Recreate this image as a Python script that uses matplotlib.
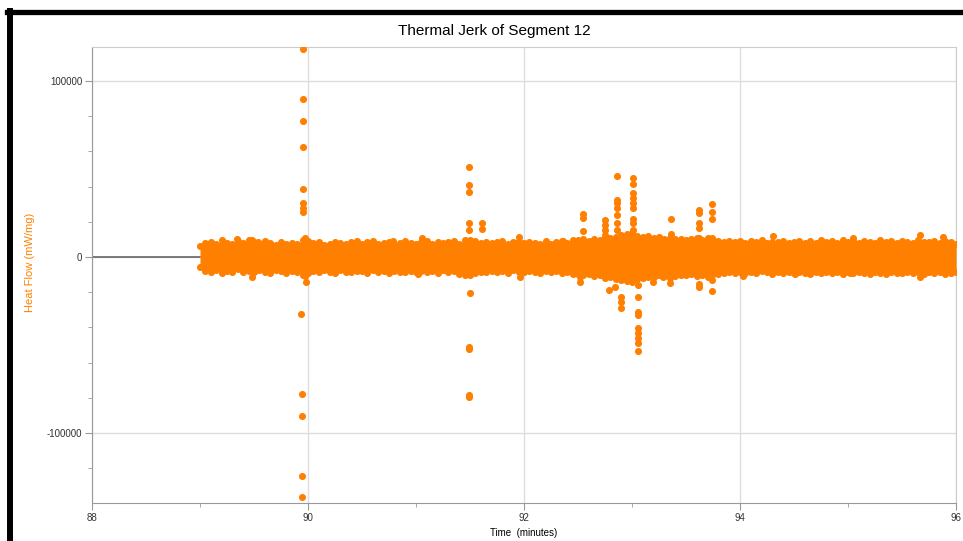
import numpy as np
import matplotlib
matplotlib.use("Agg")
from matplotlib import pyplot as plt
from matplotlib.lines import Line2D
from matplotlib.ticker import MultipleLocator

plt.rcParams['font.family'] = ['Liberation Sans', 'DejaVu Sans']
plt.rcParams['axes.unicode_minus'] = False

ORANGE = '#ff8000'

# flat baseline before the signal starts
line_t = [88.0, 89.0]
line_v = [0, 0]

# dense noise band: sampled every 0.05 min from 89.00 to 96.00
band_t = np.round(np.arange(89.0, 96.001, 0.05), 2)
band_hi = [
    6000, 7800, 8600, 7200, 9400, 8100, 7400, 9000, 7800, 9700,
    8300, 7300, 8900, 7700, 7000, 8600, 7500, 8200, 7100, 9600,
    8800, 7900, 8400, 6900, 7600, 8700, 7700, 7100, 8300, 9300,
    7500, 8600, 9100, 7300, 8000, 8400, 7000, 7800, 8800, 8100,
    7200, 8300, 9300, 7600, 8700, 7800, 8400, 8900, 7400, 9600,
    9900, 8800, 7900, 8500, 7700, 8300, 9200, 7300, 8400, 8900,
    7800, 8700, 8100, 7600, 9100, 7200, 8300, 8800, 8000, 9400,
    9600, 10000, 9000, 10400, 9700, 11000, 10600, 11600, 12300, 13000,
    13500, 12200, 11300, 11900, 10600, 11100, 10300, 10800, 10000, 10400,
    9600, 10100, 10500, 9900, 10700, 9800, 9200, 8500, 8900, 8300,
    8800, 8000, 9200, 8400, 9500, 7800, 8700, 8300, 9100, 7700,
    8600, 9300, 8200, 8900, 7900, 9700, 8400, 8800, 7800, 9400,
    8300, 8900, 8100, 9200, 8700, 7800, 9500, 8400, 8800, 8100,
    9100, 8600, 7900, 9400, 8700, 8300, 8900, 8200, 9200, 8500,
    7500]
band_lo = [
    -5800, -7700, -8500, -7400, -9100, -7900, -8400, -7100, -8800, -7800,
    -8700, -7600, -8300, -9200, -7300, -8100, -8900, -7800, -8400, -10000,
    -9300, -8000, -8600, -7600, -8300, -9100, -7400, -8400, -8800, -7700,
    -8200, -8900, -7600, -8600, -8100, -9200, -7800, -8300, -8700, -8000,
    -8400, -7700, -8800, -8100, -9100, -7500, -8600, -8200, -9500, -10000,
    -10300, -9200, -8300, -8800, -7800, -8600, -8100, -8900, -7600, -8400,
    -8800, -8000, -8400, -9100, -7700, -8700, -8200, -9200, -8300, -9600,
    -9900, -10500, -9700, -11000, -10300, -11800, -11100, -12300, -13000, -13700,
    -14100, -12700, -11900, -11300, -11600, -10500, -11000, -10200, -10800, -10100,
    -10400, -9800, -10900, -10200, -11100, -9900, -9400, -9000, -8600, -9100,
    -8300, -8900, -8600, -9300, -8200, -8800, -9500, -8400, -9100, -8700,
    -9200, -8400, -8900, -9400, -8600, -9100, -8300, -9300, -8800, -9500,
    -8700, -9200, -8400, -8900, -9500, -8600, -9100, -9400, -8400, -8900,
    -9300, -8700, -9100, -8400, -9400, -8800, -9200, -8600, -9500, -8900,
    -8400]

# isolated points (spikes and stragglers)
spike_t = [
    89.951, 89.951, 89.951, 89.951, 89.951, 89.953, 89.953, 89.953, 89.972,
    89.940, 89.945, 89.948, 89.948, 89.948, 89.980, 89.970,
    91.490, 91.490, 91.490, 91.490, 91.490, 91.614, 91.614, 91.500,
    91.490, 91.490, 91.490, 91.490,
    89.479, 89.480, 91.956, 91.960, 92.520, 92.520, 92.360,
    92.543, 92.543, 92.543, 92.750, 92.750, 92.750, 92.750,
    92.864, 92.864, 92.864, 92.864, 92.864, 92.864, 92.864,
    93.012, 93.012, 93.012, 93.012, 93.012, 93.012, 93.012, 93.012, 93.012,
    93.058, 93.058, 93.058, 93.058, 93.058, 93.058, 93.058, 93.058, 93.058, 93.058,
    92.900, 92.900, 92.900, 92.790, 92.843, 92.980,
    93.361, 93.361, 93.623, 93.623, 93.623, 93.623, 93.623,
    93.744, 93.744, 93.744, 93.744, 93.623, 93.623, 93.738, 93.738,
    93.197, 93.197, 93.284, 93.350, 93.350,
    95.667, 95.883,
    89.540, 89.340, 91.060, 90.790, 91.020, 91.440,
    94.310, 95.050, 94.030, 95.667, 95.020, 94.510]
spike_v = [
    118200, 90000, 77300, 62300, 38600, 30900, 28000, 25400, 10600,
    -32600, -77600, -90300, -124300, -136200, -14400, -11000,
    51000, 40900, 36800, 19100, 15300, 19100, 16100, -20300,
    -51300, -52400, -78400, -79500,
    9700, -11200, 11200, -11200, -11200, -14000, 9100,
    24400, 22000, 15000, 21000, 18200, 15300, 12500,
    46000, 32400, 30500, 27700, 23900, 19100, 15300,
    44700, 41500, 36600, 33700, 30900, 27700, 21400, 19500, 15300,
    -11200, -15900, -22500, -31100, -33000, -40500, -43400, -46200, -49100, -53200,
    -22500, -25400, -29200, -18800, -16900, -11200,
    21600, 12900, 26700, 25200, 19500, 16700, 11000,
    29900, 25800, 21400, 10600, -15400, -17000, -13000, -19500,
    -10800, -14000, -11200, -12100, -15000,
    12500, 11500,
    8700, 10000, 10600, 9300, -9700, -7400,
    11900, 10600, -10800, -11600, -9300, -9700]

fig = plt.figure(figsize=(9.63, 5.41), dpi=100)
ax = fig.add_axes([0.0955, 0.0702, 0.8972, 0.8429])

ax.plot(line_t, line_v, color='#666666', lw=1.2, zorder=2)
ax.fill_between(band_t, band_lo, band_hi, color=ORANGE, lw=0, zorder=3)
ax.scatter(band_t, band_hi, s=26, c=ORANGE, linewidths=0, zorder=4)
ax.scatter(band_t, band_lo, s=26, c=ORANGE, linewidths=0, zorder=4)
ax.scatter(spike_t, spike_v, s=26, c=ORANGE, linewidths=0, zorder=4)

ax.set_xlim(88, 96)
ax.set_ylim(-139800, 119300)
ax.xaxis.set_major_locator(MultipleLocator(2))
ax.xaxis.set_minor_locator(MultipleLocator(1))
ax.yaxis.set_major_locator(MultipleLocator(100000))
ax.yaxis.set_minor_locator(MultipleLocator(20000))
ax.grid(True, which='major', color='#dddddd', lw=1, zorder=0)
ax.set_axisbelow(True)

for side in ['left', 'bottom']:
    ax.spines[side].set_color('#999999')
for side in ['top', 'right']:
    ax.spines[side].set_color('#cccccc')
ax.tick_params(which='major', length=5, color='#999999', labelsize=7, labelcolor='#333333', pad=2)
ax.tick_params(which='minor', length=3, color='#999999')

fig.text(494 / 963, 1 - 31 / 541, 'Thermal Jerk of Segment 12', fontsize=11,
         ha='center', va='center')
ax.set_xlabel('Time  (minutes)', fontsize=7, labelpad=4)
ax.set_ylabel('Heat Flow (mW/mg)', fontsize=8, color=ORANGE)
ax.yaxis.set_label_coords(-0.0655, 0.528)

# black window frame along top and left edge
fig.add_artist(Line2D([0.007, 1.0], [0.9769, 0.9769], color='black', lw=3.8, transform=fig.transFigure))
fig.add_artist(Line2D([0.0104, 0.0104], [0.0, 0.9805], color='black', lw=4.3, transform=fig.transFigure))

plt.savefig('out.png', dpi=100)
plt.close()
